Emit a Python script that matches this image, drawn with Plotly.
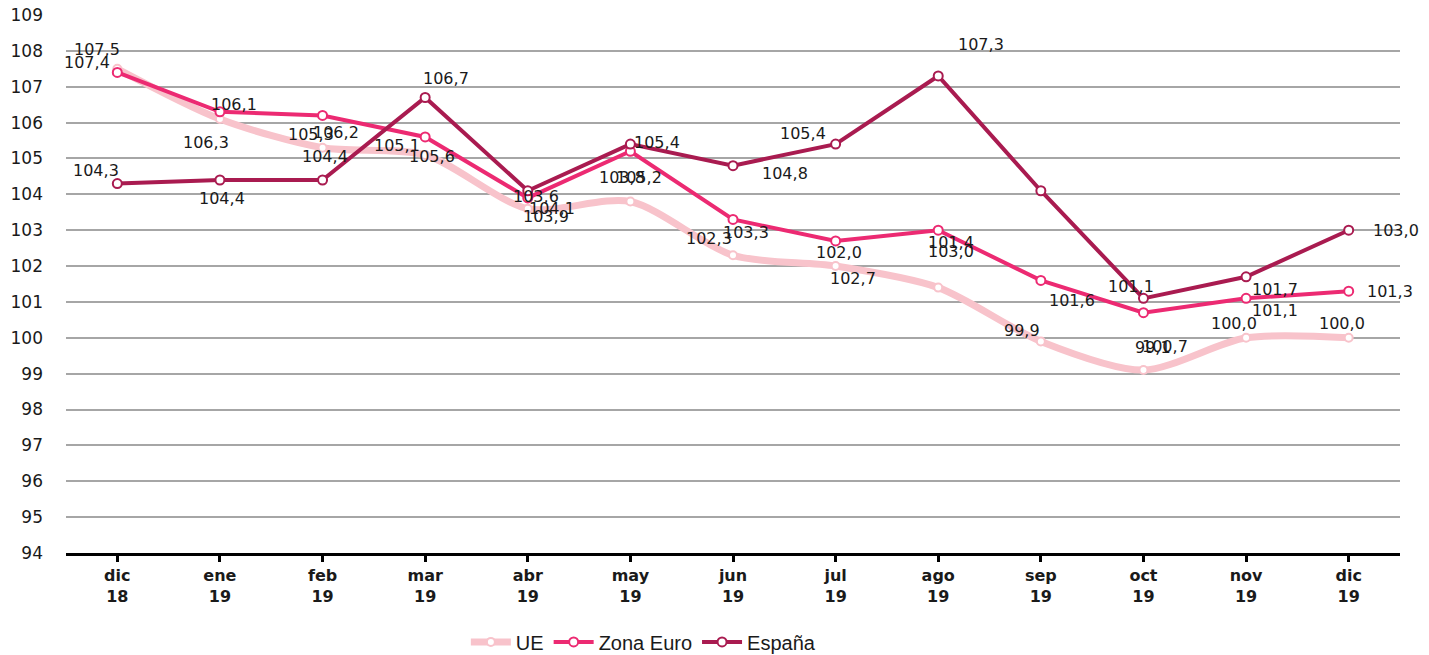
import plotly.graph_objects as go

months = ["dic", "ene", "feb", "mar", "abr", "may", "jun", "jul", "ago", "sep", "oct", "nov", "dic"]
years = ["18", "19", "19", "19", "19", "19", "19", "19", "19", "19", "19", "19", "19"]

ue = [107.5, 106.1, 105.3, 105.1, 103.6, 103.8, 102.3, 102.0, 101.4, 99.9, 99.1, 100.0, 100.0]
zona_euro = [107.4, 106.3, 106.2, 105.6, 103.9, 105.2, 103.3, 102.7, 103.0, 101.6, 100.7, 101.1, 101.3]
espana = [104.3, 104.4, 104.4, 106.7, 104.1, 105.4, 104.8, 105.4, 107.3, 104.1, 101.1, 101.7, 103.0]

y_ticks = list(range(94, 110))

# label offsets in pixels (dx, dy up) for each series' data labels
ue_off = [(-20, 19), (14, 15), (-12, 13), (-28, 9), (8, 12), (-8, 24), (-24, 17), (3, 14),
          (13, 45), (-19, 11), (10, 23), (-12, 14), (-7, 14)]
ze_off = [(-30, 10), (-14, -31), (13, -17), (7, -20), (18, -19), (9, -26), (13, -13), (17, -38),
          (13, -21), (31, -20), (22, -34), (29, -12), (41, 0)]
es_off = [(-21, 13), (2, -19), (2, 23), (21, 19), (24, -18), (27, 2), (52, -8), (-33, 11),
          (43, 31), (0, 0), (-12, 12), (29, -13), (47, 0)]
# Spain's sep point has no visible label
es_show = [True] * 13
es_show[9] = False

c_ue = "#F8C3CB"
c_ze = "#EC2A72"
c_es = "#A91B50"

x = list(range(len(months)))
ticktext = [f"<b>{m}<br>{y}</b>" for m, y in zip(months, years)]

fig = go.Figure()
fig.add_trace(go.Scatter(x=x, y=ue, name="UE", mode="lines+markers",
                         line=dict(color=c_ue, width=7, shape="spline", smoothing=0.8),
                         marker=dict(symbol="circle", size=8, color="white",
                                     line=dict(color=c_ue, width=2))))
fig.add_trace(go.Scatter(x=x, y=zona_euro, name="Zona Euro", mode="lines+markers",
                         line=dict(color=c_ze, width=4),
                         marker=dict(symbol="circle", size=9, color="white",
                                     line=dict(color=c_ze, width=2))))
fig.add_trace(go.Scatter(x=x, y=espana, name="España", mode="lines+markers",
                         line=dict(color=c_es, width=4),
                         marker=dict(symbol="circle", size=9, color="white",
                                     line=dict(color=c_es, width=2))))

def fmt(v):
    return f"{v:.1f}".replace(".", ",")

annotations = []
for series, offs, show in [(ue, ue_off, [True] * 13), (zona_euro, ze_off, [True] * 13),
                           (espana, es_off, es_show)]:
    for i, v in enumerate(series):
        if not show[i]:
            continue
        dx, dy = offs[i]
        annotations.append(dict(x=i, y=v, xref="x", yref="y", text=fmt(v), showarrow=False,
                                xshift=dx, yshift=dy, xanchor="center", yanchor="middle",
                                font=dict(family="DejaVu Sans", size=16, color="#1a1a1a")))

fig.update_layout(
    width=1429, height=655,
    margin=dict(l=66, r=29, t=15, b=102, autoexpand=False),
    plot_bgcolor="white", paper_bgcolor="white",
    showlegend=True,
    legend=dict(orientation="h", x=0.326, xanchor="left", xref="container",
                y=0.02, yanchor="middle", yref="container",
                font=dict(family="Liberation Sans", size=20, color="#1a1a1a"),
                itemwidth=40, traceorder="normal", tracegroupgap=0),
    annotations=annotations,
    xaxis=dict(range=[-0.5, 12.5], tickmode="array", tickvals=x, ticktext=ticktext,
               tickson="boundaries", ticks="outside", ticklen=6, tickwidth=3, tickcolor="black",
               showline=True, linecolor="black", linewidth=3, showgrid=False, zeroline=False,
               tickfont=dict(family="DejaVu Sans", size=16, color="#1a1a1a")),
    yaxis=dict(range=[94, 109], tickmode="array", tickvals=y_ticks,
               ticktext=[str(t) for t in y_ticks], showgrid=True, gridcolor="#A6A6A6",
               gridwidth=2, zeroline=False, showline=False, ticks="", ticklabelstandoff=22,
               tickfont=dict(family="DejaVu Sans", size=17, color="#1a1a1a")),
)

fig.write_html("out.html", config={"displayModeBar": False},
               post_script="document.body.style.margin='0';document.body.style.overflow='hidden';")
